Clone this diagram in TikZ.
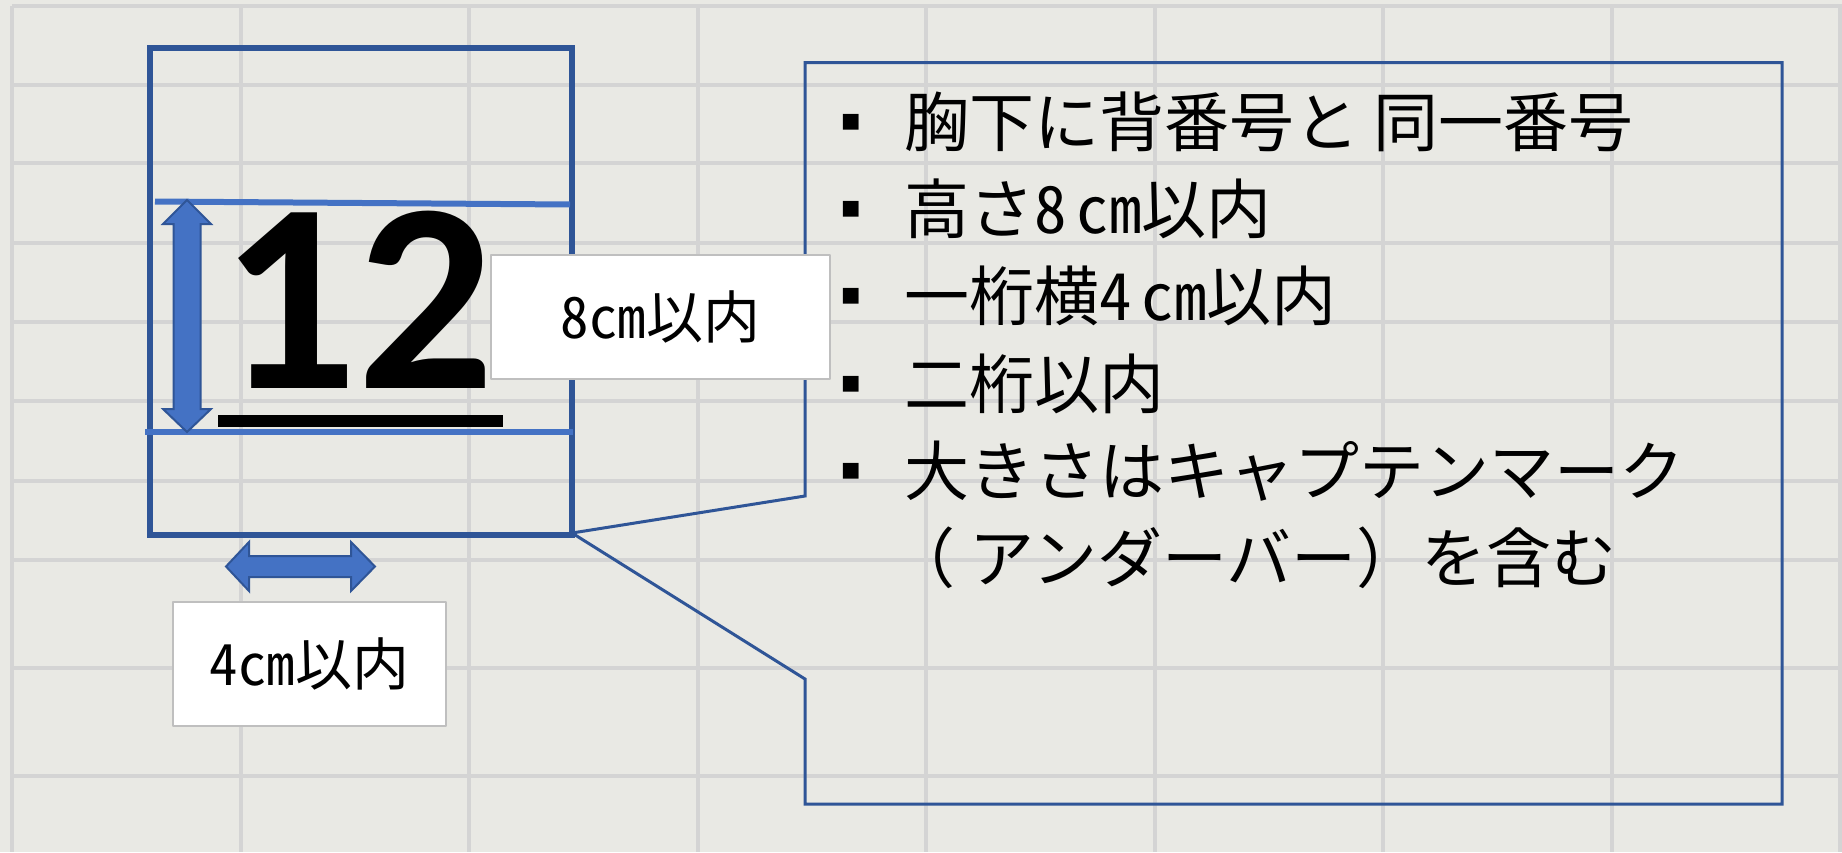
\documentclass[tikz,border=0pt]{standalone}
\usepackage{fontspec}
\newfontfamily\jp{Noto Sans CJK JP}
\newfontfamily\jphw{Noto Sans CJK JP}[RawFeature=+hwid]
\newfontfamily\dejavu{DejaVu Sans}
\newfontfamily\numfont{Carlito}
\definecolor{sheet}{HTML}{E9E9E4}
\definecolor{gridgray}{HTML}{D4D4D4}
\definecolor{navy}{HTML}{2F5597}
\definecolor{steel}{HTML}{4472C4}
\definecolor{labgray}{HTML}{BFBFBF}
\begin{document}
\begin{tikzpicture}[x=0.02cm,y=-0.02cm,line join=round,
    gridl/.style={gridgray,line width=0.08cm},
    guide/.style={steel,line width=0.12cm},
    blockarrow/.style={fill=steel,draw=navy,line width=0.04cm,line join=miter},
    labbox/.style={draw=labgray,line width=0.05cm,fill=white,inner sep=0,
      minimum height=2.48cm,font=\jp\fontsize{32.4}{38}\selectfont},
    item/.style={anchor=west,inner sep=0,font=\jp\fontsize{37}{44}\selectfont},
    bul/.style={inner sep=0,font=\dejavu\fontsize{18}{18}\selectfont}]
\fill[sheet] (0,0) rectangle (1842,852);
\useasboundingbox (0,0) rectangle (1842,852);
% sheet grid
\foreach \i in {0,...,8}
  \draw[gridl] ({12+228.5*\i},6) -- ({12+228.5*\i},852);
\foreach \y in {6,85,163,243,322,401,481,560,668,776}
  \draw[gridl] (12,\y) -- (1842,\y);
% callout
\draw[navy,line width=0.06cm,line join=miter] (805,62.5) -- (1782,62.5) -- (1782,804) -- (805,804)
  -- (805,679) -- (572,533) -- (805,496) -- cycle;
% shirt
\draw[navy,line width=0.12cm,line join=miter] (150,48) rectangle (571.5,535);
\draw[guide] (155,201.5) -- (570,204.5);
\draw[guide] (145,432) -- (573,432);
\draw[blockarrow] (187,200) -- (211,224) -- (200.5,224) -- (200.5,409) -- (211,409) -- (187,432)
  -- (163,409) -- (173.5,409) -- (173.5,224) -- (163,224) -- cycle;
\draw[blockarrow] (226,566.5) -- (249,542) -- (249,556) -- (351,556) -- (351,542) -- (375,566.5)
  -- (351,591) -- (351,577) -- (249,577) -- (249,591) -- cycle;
\node[anchor=base west,inner sep=0,font=\numfont\bfseries\fontsize{154}{154}\selectfont] (num) at (220,388) {12};
\fill (218,415) rectangle (503,427);
% labels
\node[labbox,minimum width=6.78cm] (hgt) at (660.5,317) {{\jphw 8cm}以内};
\node[labbox,minimum width=5.46cm] (wid) at (309.5,664) {{\jphw 4cm}以内};
% list
\node[bul] (b1) at (851,122) {▪};
\node[item] (t1) at (904,122) {胸下に背番号と 同一番号};
\node[bul] (b2) at (851,209) {▪};
\node[item] (t2) at (904,209) {高さ{\jphw 8}\hspace{0.15em}{\jphw cm}以内};
\node[bul] (b3) at (851,296) {▪};
\node[item] (t3) at (904,296) {一桁横{\jphw 4}\hspace{0.15em}{\jphw cm}以内};
\node[bul] (b4) at (851,384) {▪};
\node[item] (t4) at (904,384) {二桁以内};
\node[bul] (b5) at (851,471) {▪};
\node[item] (t5) at (904,471) {大きさはキャプテンマーク};
\node[item] (t6) at (890,558) {（ アンダーバー）を含む};
\end{tikzpicture}
\end{document}
